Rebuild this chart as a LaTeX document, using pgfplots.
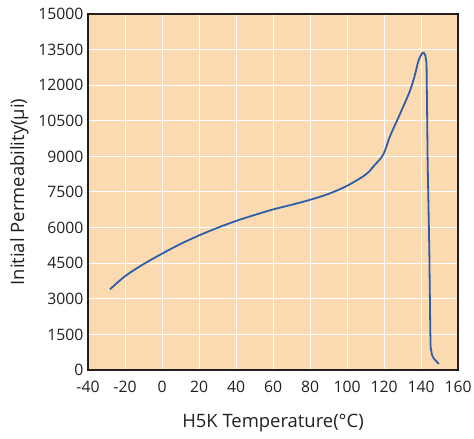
\documentclass[border=0pt]{standalone}
\usepackage{pgfplots}
\pgfplotsset{compat=1.18}
\usepackage{fontspec}
\setmainfont{Open Sans}
\definecolor{bgpeach}{HTML}{FBD9B1}
\definecolor{curveblue}{HTML}{2B5DA8}
\definecolor{axdark}{HTML}{231F20}
\begin{document}
\begin{tikzpicture}[x=1bp,y=1bp]
\path[use as bounding box] (-88,-69) rectangle (386,370);
\begin{axis}[
  at={(0,0)}, anchor=south west,
  scale only axis,
  width=370bp, height=356bp,
  xmin=-40, xmax=160, ymin=0, ymax=15000,
  xtick={-40,-20,...,160},
  ytick={0,1500,...,15000},
  grid=major,
  major grid style={white, line width=1pt},
  axis background/.style={fill=bgpeach},
  axis line style={axdark, line width=1.6pt},
  major tick length=0pt,
  tick style={draw=none},
  ticklabel style={font=\fontsize{15.8}{18}\selectfont, text=axdark},
  xticklabel style={yshift=-8pt},
  yticklabel style={xshift=-1pt},
  /pgf/number format/assume math mode=true,
  scaled y ticks=false,
  yticklabel style={/pgf/number format/fixed, /pgf/number format/1000 sep={}},
  xticklabel style={/pgf/number format/fixed},
  xlabel={H5K Temperature(°C)},
  ylabel={Initial Permeability(μi)},
  label style={font=\fontsize{18.5}{21}\selectfont, text=axdark},
  xlabel style={yshift=-14pt},
  ylabel style={yshift=3pt},
]
\addplot[curveblue, line width=1.8pt, smooth, tension=0.55] coordinates {
(-28.1,3400) (-20,3950) (-10,4460) (0,4900) (10,5310) (20,5670) (30,5990)
(40,6280) (50,6530) (60,6765) (70,6960) (80,7170) (90,7420) (100,7760)
(110,8230) (115,8640) (119.6,9080) (123.2,9840) (128.6,10780) (134,11760)
(136.8,12460) (138.6,13020) (140.9,13370) (142.3,13250) (143,12900)
};
\addplot[curveblue, line width=1.8pt] coordinates {
(143,12900) (143.6,8720) (144.5,5000) (145.0,1700) (145.2,983)
};
\addplot[curveblue, line width=1.8pt, smooth] coordinates {
(145.2,983) (146.3,562) (149.7,253)
};
\end{axis}
\end{tikzpicture}
\end{document}
